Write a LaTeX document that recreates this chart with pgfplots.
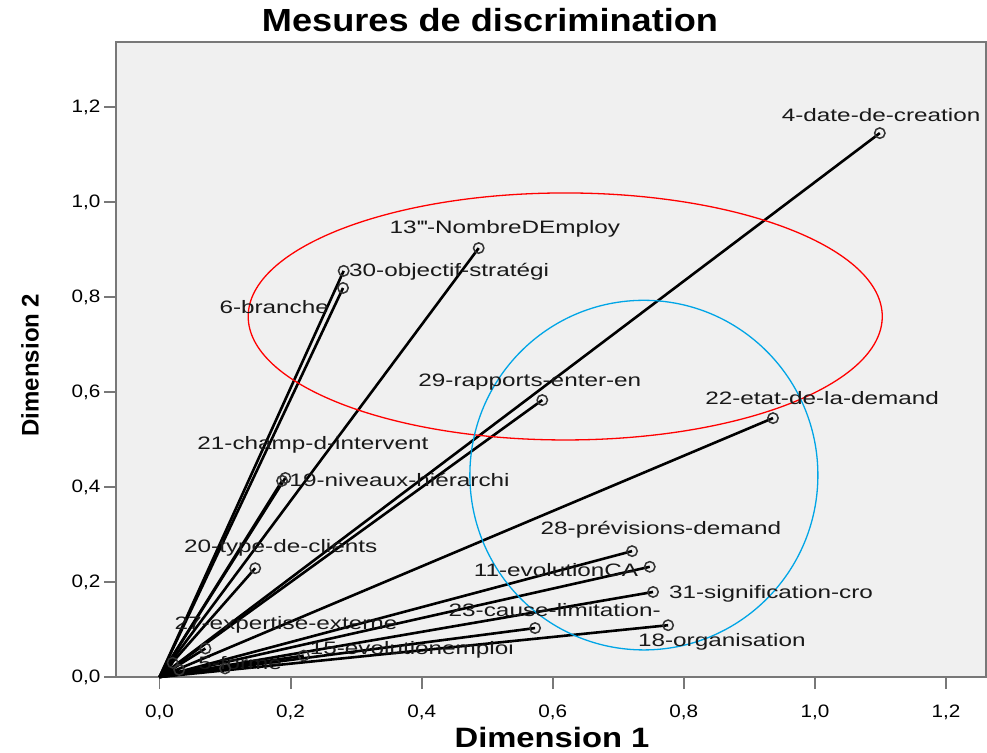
\documentclass[border=0pt]{standalone}
\usepackage{fontspec}
\setmainfont{Liberation Sans}
\newfontfamily\labfont[FakeStretch=1.35]{Liberation Sans}
\newfontfamily\tickfont[FakeStretch=1.15]{Liberation Sans}
\newfontfamily\titfont[FakeStretch=1.13]{Liberation Sans}
\newfontfamily\xlabfont[FakeStretch=1.17]{Liberation Sans}
\usepackage{pgfplots}
\usepackage{pgfplotstable}
\pgfplotsset{compat=1.18}
\definecolor{bgc}{RGB}{240,240,240}
\definecolor{framec}{RGB}{120,120,120}
\definecolor{bluec}{RGB}{0,165,230}

% discrimination measures (Dimension 1, Dimension 2)
\pgfplotstableread{
x y
1.099 1.145
0.487 0.903
0.281 0.855
0.280 0.819
0.584 0.583
0.936 0.545
0.192 0.419
0.187 0.413
0.146 0.229
0.721 0.265
0.748 0.232
0.753 0.179
0.776 0.109
0.573 0.103
0.070 0.060
0.220 0.045
0.030 0.015
0.020 0.030
0.100 0.018
}\pts

\begin{document}
\begin{tikzpicture}
\begin{axis}[
  at={(116pt,75pt)}, anchor=south west,
  scale only axis, width=870pt, height=635pt,
  xmin=-0.0664, xmax=1.261, ymin=0, ymax=1.3368,
  axis background/.style={fill=bgc},
  axis line style={draw=framec, line width=1.8pt},
  tick style={draw=framec, line width=1.8pt},
  major tick length=12pt, tick align=outside, tick pos=left,
  xtick={0,0.2,0.4,0.6,0.8,1.0,1.2},
  ytick={0,0.2,0.4,0.6,0.8,1.0,1.2},
  /pgf/number format/.cd, fixed, fixed zerofill, precision=1, use comma, assume math mode=true,
  /pgfplots/.cd,
  ticklabel style={font=\tickfont\fontsize{18}{20}\selectfont, text=black},
  xticklabel style={yshift=-12pt},
  clip=false,
]
\addplot[black, line width=2.6pt, quiver={u=\thisrow{x}, v=\thisrow{y}}] table[x expr=0, y expr=0] {\pts};
\addplot[only marks, mark=o, mark size=5.2pt, mark options={line width=1.5pt, draw=black!80}] table[x=x, y=y] {\pts};

\draw[red, line width=1.3pt] (axis cs:0.619,0.759) ellipse [x radius=0.4837, y radius=0.26];
\draw[bluec, line width=1.3pt] (axis cs:0.739,0.425) ellipse [x radius=0.2655, y radius=0.368];

\begin{scope}[every node/.style={font=\labfont\fontsize{18}{20}\selectfont, text=black!90, inner sep=0pt}]
\node at (axis cs:1.101,1.183) {4-date-de-creation};
\node at (axis cs:0.527,0.943) {13\textquotesingle\textquotesingle\textquotesingle-NombreDEmploy};
\node[anchor=west] at (axis cs:0.289,0.853) {30-objectif-stratégi};
\node at (axis cs:0.175,0.779) {6-branche};
\node at (axis cs:0.565,0.621) {29-rapports-enter-en};
\node at (axis cs:1.011,0.587) {22-etat-de-la-demand};
\node at (axis cs:0.234,0.488) {21-champ-d-intervent};
\node[anchor=west] at (axis cs:0.198,0.415) {19-niveaux-hiérarchi};
\node at (axis cs:0.185,0.272) {20-type-de-clients};
\node at (axis cs:0.765,0.309) {28-prévisions-demand};
\node at (axis cs:0.605,0.225) {11-evolutionCA};
\node at (axis cs:0.933,0.175) {31-signification-cro};
\node at (axis cs:0.603,0.141) {23-cause-limitation-};
\node at (axis cs:0.858,0.074) {18-organisation};
\node at (axis cs:0.193,0.109) {27-expertise-externe};
\node at (axis cs:0.385,0.057) {15-evolutionemploi};
\node at (axis cs:0.123,0.029) {5-forme};
\end{scope}
\end{axis}
\node[font=\titfont\bfseries\fontsize{32}{36}\selectfont] at (490pt,732pt) {Mesures de discrimination};
\node[font=\xlabfont\bfseries\fontsize{28}{32}\selectfont] at (552pt,15pt) {Dimension 1};
\node[font=\bfseries\fontsize{24}{28}\selectfont, rotate=90] at (30pt,387pt) {Dimension 2};
\pgfresetboundingbox
\path[use as bounding box] (0,0) rectangle (987pt,752pt);
\end{tikzpicture}
\end{document}
